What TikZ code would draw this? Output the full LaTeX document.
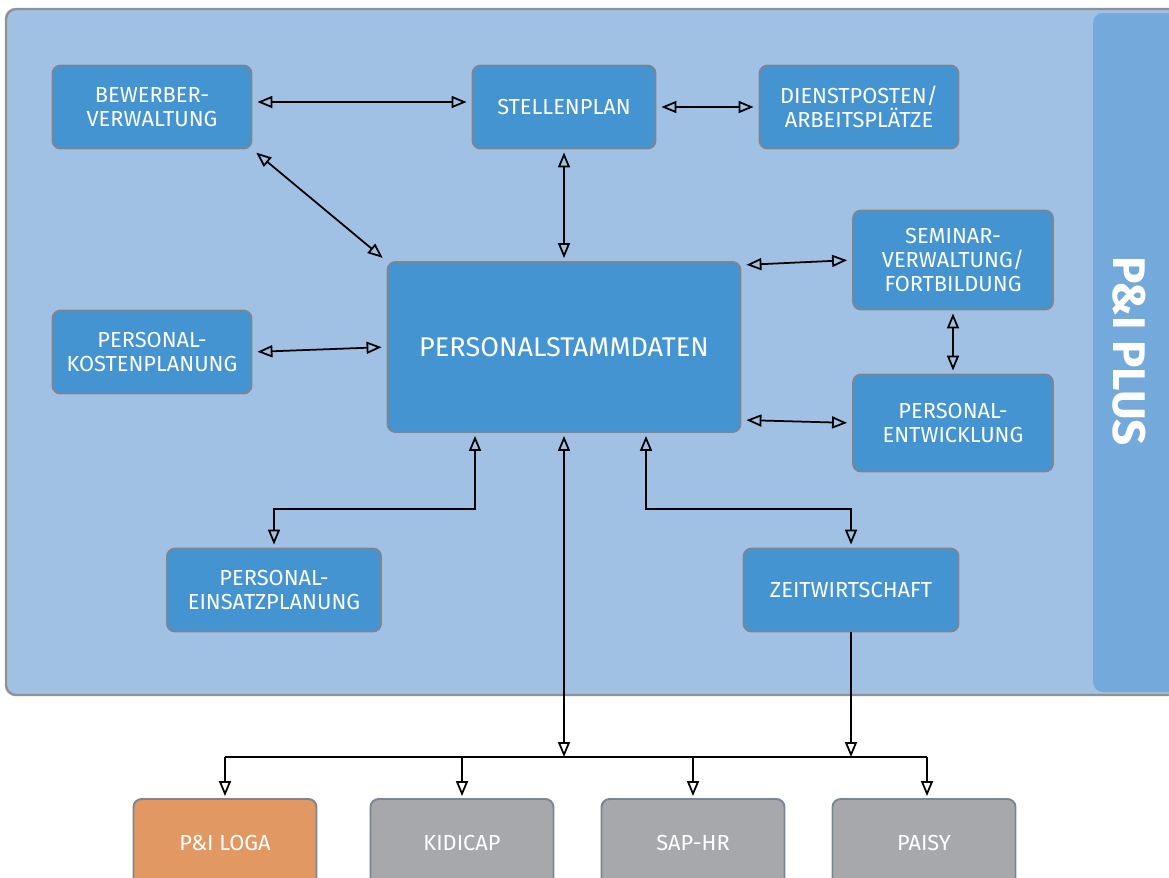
\documentclass[tikz,border=0pt]{standalone}
\usepackage{fontspec}
\setmainfont{Fira Sans}
\usetikzlibrary{arrows.meta}

\definecolor{panelblue}{HTML}{A1C1E4}
\definecolor{stripblue}{HTML}{74A9DB}
\definecolor{boxblue}{HTML}{4394D0}
\definecolor{boxline}{HTML}{7A8696}
\definecolor{panelline}{HTML}{8F9194}
\definecolor{logaorange}{HTML}{E19862}
\definecolor{sysgray}{HTML}{A7A8AB}

\tikzset{
  opentip/.tip={Triangle[open, length=0.3cm, width=0.24cm]},
}

\begin{document}
\begin{tikzpicture}[x=0.02cm, y=-0.02cm,
  every node/.style={draw=boxline, line width=1.1pt, rounded corners=0.16cm, text=white, align=center, inner sep=0pt, font=\fontsize{12.4}{13.6}\selectfont},
  module/.style={fill=boxblue, minimum width=3.98cm, minimum height=1.66cm},
  system/.style={minimum width=3.66cm, minimum height=1.76cm},
  link/.style={line width=1pt, opentip-opentip, shorten <=0.1cm, shorten >=0.1cm},
  feed/.style={line width=1pt, -opentip}]
  % page and panel
  \clip (0,0) rectangle (1169,877);
  \fill[white] (0,0) rectangle (1169,877);
  \draw[panelline, line width=1.4pt, fill=panelblue, rounded corners=0.2cm] (6,9) rectangle (1200,695);
  \fill[stripblue, rounded corners=0.2cm] (1093,13) rectangle (1200,692);
  \node[draw=none, rotate=-90, font=\fontsize{26}{26}\selectfont\bfseries] (plus) at (1129,351) {P\&I PLUS};

  % modules
  \node[module] (bew) at (152,107) {BEWERBER-\\VERWALTUNG};
  \node[module, minimum width=3.66cm] (stel) at (564,107) {STELLENPLAN};
  \node[module] (dienst) at (859,107) {DIENSTPOSTEN/\\ARBEITSPLÄTZE};
  \node[module, minimum width=4cm, minimum height=1.98cm] (sem) at (953,260) {SEMINAR-\\VERWALTUNG/\\FORTBILDUNG};
  \node[module, minimum width=4cm, minimum height=1.94cm] (pe) at (953,423) {PERSONAL-\\ENTWICKLUNG};
  \node[module] (kost) at (152,352) {PERSONAL-\\KOSTENPLANUNG};
  \node[module, minimum width=7.06cm, minimum height=3.4cm, font=\fontsize{15.4}{17}\selectfont] (psd) at (564,347) {PERSONALSTAMMDATEN};
  \node[module, minimum width=4.28cm] (ein) at (274,590) {PERSONAL-\\EINSATZPLANUNG};
  \node[module, minimum width=4.3cm] (zeit) at (851,590) {ZEITWIRTSCHAFT};

  % external systems
  \node[system, fill=logaorange] (loga) at (225,843) {P\&I LOGA};
  \node[system, fill=sysgray] (kid) at (462,843) {KIDICAP};
  \node[system, fill=sysgray] (sap) at (693,843) {SAP-HR};
  \node[system, fill=sysgray] (paisy) at (924,843) {PAISY};

  \coordinate (hub) at (564,757);
  \coordinate (zhub) at (851,757);
  \coordinate (dl) at (225,757);
  \coordinate (dr) at (927,757);

  % links inside the panel
  \draw[link] ([yshift=0.1cm]bew.east) -- ([yshift=0.1cm]stel.west);
  \draw[link] (stel.east) -- (dienst.west);
  \draw[link] (bew.south east) -- (psd.north west);
  \draw[link, shorten <=0.06cm, shorten >=0.06cm] (stel.south) -- (psd.north);
  \draw[link] ([yshift=-0.08cm]psd.north east) -- (sem.west);
  \draw[link, shorten <=0.06cm, shorten >=0.06cm] (sem.south) -- (pe.north);
  \draw[link] ([yshift=0.26cm]psd.south east) -- (pe.west);
  \draw[link] (kost.east) -- (psd.west);
  \draw[link, shorten <=0.06cm, shorten >=0.06cm] ([xshift=-1.78cm]psd.south) -- ++(0,76) -| (ein.north);
  \draw[link, shorten <=0.06cm, shorten >=0.06cm] ([xshift=1.64cm]psd.south) -- ++(0,76) -| (zeit.north);

  % links to the external systems
  \draw[link, shorten <=0.06cm, shorten >=0pt] (psd.south) -- (hub);
  \draw[feed] (zeit.south) -- (zhub);
  \draw[line width=1pt] (dl) -- (dr);
  \draw[feed, shorten >=0.04cm] (dl) -- (loga.north);
  \draw[feed, shorten >=0.04cm] (kid.north |- dl) -- (kid.north);
  \draw[feed, shorten >=0.04cm] (sap.north |- dl) -- (sap.north);
  \draw[feed, shorten >=0.04cm] (dr) -- (dr |- paisy.north);
\end{tikzpicture}
\end{document}
